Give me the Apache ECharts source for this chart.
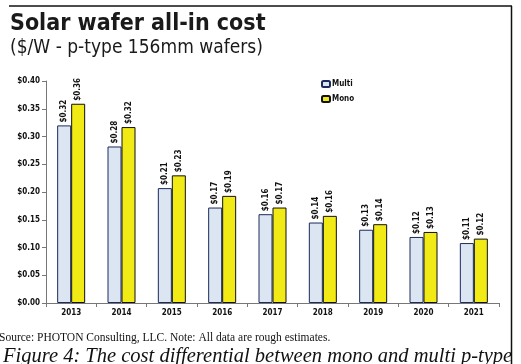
<!DOCTYPE html>
<html>
<head>
<meta charset="utf-8">
<script src="https://cdn.jsdelivr.net/npm/echarts@6/dist/echarts.min.js"></script>
<style>html,body{margin:0;padding:0;background:#fff}#c{width:521px;height:364px}</style>
</head>
<body>
<div id="c"></div>
<script>
var categories = ['2013','2014','2015','2016','2017','2018','2019','2020','2021'];
var multi = [0.320, 0.282, 0.207, 0.172, 0.160, 0.145, 0.132, 0.119, 0.108];
var mono  = [0.359, 0.317, 0.230, 0.193, 0.172, 0.157, 0.142, 0.128, 0.116];
var yTicks = [0, 0.05, 0.10, 0.15, 0.20, 0.25, 0.30, 0.35, 0.40];

var narrow = '"Liberation Sans Narrow", "Arial Narrow", "DejaVu Sans Condensed", sans-serif';
var chart = echarts.init(document.getElementById('c'));
function lbl(p){ return '$' + p.value.toFixed(2); }
var labelCfg = {
  show: true, position: 'top', rotate: 90, align: 'left', verticalAlign: 'middle',
  distance: 3, formatter: lbl, fontFamily: narrow, fontWeight: 'bold', fontSize: 8, color: '#111'
};
chart.setOption({
  animation: false,
  title: {
    text: 'Solar wafer all-in cost',
    subtext: '($/W - p-type 156mm wafers)',
    left: 5, top: 8, itemGap: 3,
    textStyle: { fontFamily: narrow, fontWeight: 'bold', fontSize: 23, color: '#1a1a1a' },
    subtextStyle: { fontFamily: narrow, fontSize: 19, color: '#1a1a1a' }
  },
  legend: {
    orient: 'vertical', left: 316, top: 75, itemWidth: 8, itemHeight: 6, itemGap: 7,
    textStyle: { fontFamily: narrow, fontWeight: 'bold', fontSize: 8, color: '#111', padding: [0,0,0,-3] },
    data: ['Multi','Mono']
  },
  grid: { left: 46, right: 22, top: 81, bottom: 61, containLabel: false },
  xAxis: {
    type: 'category', data: categories,
    axisLine: { lineStyle: { color: '#777', width: 1 } },
    axisTick: { show: true, length: 4, lineStyle: { color: '#777' } },
    axisLabel: { fontFamily: narrow, fontWeight: 'bold', fontSize: 8, color: '#111', margin: 6 }
  },
  yAxis: {
    type: 'value', min: 0, max: 0.40, interval: 0.05,
    axisLine: { show: true, lineStyle: { color: '#777', width: 1 } },
    axisTick: { show: true, length: 4, lineStyle: { color: '#777' } },
    splitLine: { show: false },
    axisLabel: { fontFamily: narrow, fontWeight: 'bold', fontSize: 8, color: '#111', margin: 6,
      formatter: function(v){ return '$' + v.toFixed(2); } }
  },
  series: [
    { name: 'Multi', type: 'bar', data: multi, barWidth: 14, barGap: '0%',
      itemStyle: { color: '#dce6f3', borderColor: '#1c2a5c', borderWidth: 1 }, label: labelCfg },
    { name: 'Mono', type: 'bar', data: mono, barWidth: 14,
      itemStyle: { color: '#f2ea14', borderColor: '#111', borderWidth: 1 }, label: labelCfg }
  ],
  graphic: [
    { type: 'line', shape: { x1: 9, y1: 6, x2: 512, y2: 6 }, style: { stroke: '#111', lineWidth: 1.5 } },
    { type: 'line', shape: { x1: 511.5, y1: 6, x2: 511.5, y2: 364 }, style: { stroke: '#111', lineWidth: 1.5 } },
    { type: 'text', left: -1, top: 332, style: { text: 'Source: PHOTON Consulting, LLC. Note: All data are rough estimates.',
      font: '11.5px "Liberation Serif", serif', fill: '#111' } },
    { type: 'text', left: 3, top: 347, style: { text: 'Figure 4: The cost differential between mono and multi p-type',
      font: 'italic 20.5px "Liberation Serif", serif', fill: '#111' } }
  ]
});
</script>
</body>
</html>
